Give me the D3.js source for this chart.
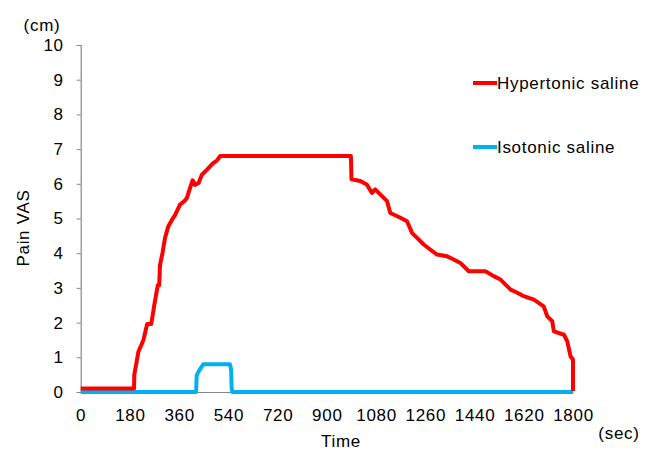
<!DOCTYPE html>
<html>
<head>
<meta charset="utf-8">
<script src="https://cdn.jsdelivr.net/npm/d3@7"></script>
<style>
  html, body { margin:0; padding:0; background:#fff; }
  svg { display:block; }
  text { font-family: "Liberation Sans", Arial, sans-serif; fill:#000; letter-spacing:0.7px; }
</style>
</head>
<body>
<svg id="chart" width="655" height="452"></svg>
<script>
// time (sec) / pain VAS (cm)
const hyperT = [0,195,196,211,229,243,258,270,282,287,290,299,308,320,335,345,363,379,388,400,409,419,431,443,461,473,485,497,510,
  988,990,1022,1046,1065,1077,1096,1120,1132,1169,1193,1212,1230,1254,1279,1303,1340,1364,1388,1419,1480,1510,1535,1572,1596,1620,1657,1693,1706,1724,1730,1767,1779,1791,1800,1800];
const hyperV = [0.1,0.1,0.5,1.16,1.49,1.96,1.96,2.55,3.08,3.08,3.66,4.0,4.43,4.77,4.98,5.1,5.4,5.5,5.59,5.88,6.1,5.97,6.02,6.26,6.4,6.5,6.6,6.66,6.8,
  6.8,6.13,6.08,5.98,5.74,5.84,5.69,5.5,5.16,5.02,4.92,4.58,4.44,4.25,4.1,3.96,3.91,3.82,3.72,3.48,3.48,3.34,3.24,2.95,2.86,2.76,2.66,2.47,2.18,2.04,1.75,1.65,1.46,1.03,0.93,0.03];
const isoT = [0,422,424,432,448,546,550,552,555,1800];
const isoV = [0,0,0.48,0.6,0.8,0.8,0.63,0.1,0,0];

const xTicks = [0,180,360,540,720,900,1080,1260,1440,1620,1800];
const yTicks = [0,1,2,3,4,5,6,7,8,9,10];
const seriesNames = ["Hypertonic saline","Isotonic saline"];
const seriesColors = ["#ff0000","#00b0f0"];

const svg = d3.select('#chart');
const x = d3.scaleLinear().domain([0,1800]).range([80.7,573]);
const y = d3.scaleLinear().domain([0,10]).range([392,45]);
const FONT = '"Liberation Sans", Arial, sans-serif';

// y axis
const yAx = svg.append('g').attr('transform',`translate(${x(0)},0)`)
  .call(d3.axisLeft(y).tickValues(yTicks).tickSize(4).tickPadding(13).tickFormat(d3.format('d')));
yAx.select('.domain').attr('stroke','#868686').attr('stroke-width',1.2);
yAx.selectAll('.tick line').attr('stroke','#868686');
yAx.selectAll('.tick text').attr('font-size',17).attr('font-family',FONT).attr('fill','#000');

// x axis
const xAx = svg.append('g').attr('transform',`translate(0,${y(0)})`)
  .call(d3.axisBottom(x).tickValues(xTicks).tickSize(0).tickPadding(17).tickFormat(d3.format('d')));
xAx.select('.domain').attr('stroke','#868686');
xAx.selectAll('.tick text').attr('font-size',17).attr('font-family',FONT).attr('fill','#000');

const line = d3.line().x(d => x(d[0])).y(d => y(d[1]));

svg.append('path')
  .datum(isoT.map((t,i) => [t, isoV[i]]))
  .attr('d', line).attr('fill','none')
  .attr('stroke', seriesColors[1]).attr('stroke-width',4).attr('stroke-linejoin','round');

svg.append('path')
  .datum(hyperT.map((t,i) => [t, hyperV[i]]))
  .attr('d', line).attr('fill','none')
  .attr('stroke', seriesColors[0]).attr('stroke-width',4).attr('stroke-linejoin','round');

// legend
const legY = [83,147];
seriesNames.forEach((n,i) => {
  svg.append('line').attr('x1',473).attr('x2',497).attr('y1',legY[i]).attr('y2',legY[i])
    .attr('stroke',seriesColors[i]).attr('stroke-width',4);
  svg.append('text').attr('x',497).attr('y',legY[i]).attr('dy','0.35em')
    .attr('font-size',17).text(n);
});

// labels
svg.append('text').attr('x',42).attr('y',25).attr('dy','0.35em').attr('text-anchor','middle')
  .attr('font-size',17).text('(cm)');
svg.append('text').attr('transform','translate(23,228) rotate(-90)').attr('dy','0.35em')
  .attr('text-anchor','middle').attr('font-size',17).text('Pain VAS');
svg.append('text').attr('x',341).attr('y',441).attr('dy','0.35em').attr('text-anchor','middle')
  .attr('font-size',17).text('Time');
svg.append('text').attr('x',619).attr('y',433).attr('dy','0.35em').attr('text-anchor','middle')
  .attr('font-size',17).text('(sec)');
</script>
</body>
</html>
